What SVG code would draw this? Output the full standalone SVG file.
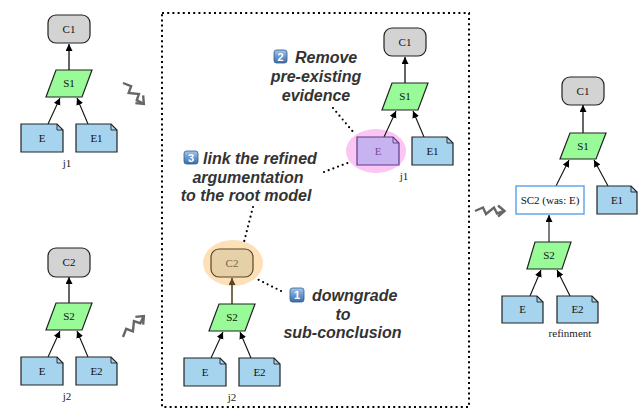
<svg xmlns="http://www.w3.org/2000/svg" width="639" height="409" viewBox="0 0 639 409">
  <defs>
    <marker id="arr" markerUnits="userSpaceOnUse" markerWidth="8" markerHeight="8" refX="7" refY="3.5" orient="auto">
      <path d="M0,0 L7,3.5 L0,7 z" fill="#000"/>
    </marker>
    <marker id="arrBrown" markerUnits="userSpaceOnUse" markerWidth="8" markerHeight="8" refX="7" refY="3.5" orient="auto">
      <path d="M0,0 L7,3.5 L0,7 z" fill="#5a4526"/>
    </marker>
    <linearGradient id="badgeFill" x1="0" y1="0" x2="0" y2="1">
      <stop offset="0" stop-color="#a6c6e8"/>
      <stop offset="0.5" stop-color="#6b98cc"/>
      <stop offset="1" stop-color="#3d6ca5"/>
    </linearGradient>
    <!-- squiggly "becomes" arrow, drawn along +x, length 30 -->
    <g id="squiggle">
      <path d="M0,0 L8,-3.5 L11,3 L19,-3.5 L22,2.5 L29,0" fill="none" stroke="#666" stroke-width="2.4" stroke-linejoin="miter"/>
      <path d="M23,-5.5 L29.5,0 L23,5.5" fill="none" stroke="#666" stroke-width="2.4" stroke-linejoin="miter"/>
    </g>
  </defs>
  <style>
    .claim { fill: #d3d3d3; stroke: #222; stroke-width: 1.2; }
    .strat { fill: #98fb98; stroke: #222; stroke-width: 1.2; }
    .evid { fill: #a6d4ee; stroke: #222; stroke-width: 1.2; }
    .fold { fill: none; stroke: #222; stroke-width: 0.9; }
    .lbl { font-family: "Liberation Serif", serif; font-size: 11px; fill: #111; text-anchor: middle; }
    .cap { font-family: "Liberation Serif", serif; font-size: 11px; fill: #222; text-anchor: middle; }
    .edge { fill: none; stroke: #111; stroke-width: 1.1; marker-end: url(#arr); }
    .edgeUp { fill: none; stroke: #666; stroke-width: 2; marker-end: url(#arr); }
    .note { font-family: "Liberation Sans", Arial, sans-serif; font-size: 16px; font-weight: bold; font-style: italic; fill: #333; }
    .badge { fill: url(#badgeFill); stroke: #2f5a8c; stroke-width: 0.8; }
    .badgeNum { font-family: "Liberation Sans", Arial, sans-serif; font-size: 11px; font-weight: bold; fill: #fff; text-anchor: middle; }
    .leader { fill: none; stroke: #000; stroke-width: 2.2; stroke-linecap: round; stroke-dasharray: 0 5; }
    .frame { fill: none; stroke: #000; stroke-width: 2; stroke-dasharray: 2 3.2; }
  </style>

  <!-- refactoring frame -->
  <rect class="frame" x="162" y="13" width="307" height="394"/>

  <!-- highlight halos -->
  <ellipse cx="376" cy="151" rx="30" ry="22" fill="#fbc6f3"/>
  <ellipse cx="233" cy="263" rx="30" ry="23" fill="#fde0b8"/>

  <!-- connectors -->
  <g id="connectors">
    <!-- j1 -->
    <line class="edgeUp" x1="69" y1="70" x2="69" y2="44"/>
    <line class="edge" x1="48" y1="124" x2="60" y2="98"/>
    <line class="edge" x1="88" y1="124" x2="77" y2="98"/>
    <!-- j2 -->
    <line class="edgeUp" x1="69" y1="303" x2="69" y2="277"/>
    <line class="edge" x1="48" y1="357" x2="60" y2="331"/>
    <line class="edge" x1="88" y1="357" x2="77" y2="331"/>
    <!-- j1 in frame -->
    <line class="edgeUp" x1="405" y1="83" x2="405" y2="57"/>
    <line class="edge" x1="384" y1="137" x2="396" y2="111"/>
    <line class="edge" x1="424" y1="137" x2="413" y2="111"/>
    <!-- j2 in frame -->
    <line x1="232" y1="304" x2="232" y2="278" fill="none" stroke="#5a4526" stroke-width="1.6" marker-end="url(#arrBrown)"/>
    <line class="edge" x1="211" y1="358" x2="223" y2="332"/>
    <line class="edge" x1="251" y1="358" x2="240" y2="332"/>
    <!-- refinement -->
    <line class="edgeUp" x1="583" y1="133" x2="583" y2="105"/>
    <line class="edge" x1="556" y1="186" x2="569" y2="160"/>
    <line class="edge" x1="608" y1="186" x2="594" y2="160"/>
    <line class="edge" x1="549" y1="242" x2="549" y2="215"/>
    <line class="edge" x1="530" y1="296" x2="541" y2="270"/>
    <line class="edge" x1="570" y1="296" x2="557" y2="270"/>
    <!-- transformation arrows -->
    <use href="#squiggle" transform="translate(123,83) rotate(45)"/>
    <use href="#squiggle" transform="translate(123,337) rotate(-45)"/>
    <use href="#squiggle" transform="translate(475,211)"/>
    <!-- annotation leaders -->
    <line class="leader" x1="333" y1="108" x2="354" y2="133"/>
    <line class="leader" x1="324" y1="172" x2="350" y2="162"/>
    <line class="leader" x1="253" y1="207" x2="244" y2="242"/>
    <line class="leader" x1="281" y1="291" x2="257" y2="279"/>
  </g>

  <!-- ===== j1 ===== -->
  <g id="j1-C1">
    <rect class="claim" x="48" y="15" width="42" height="28" rx="8"/>
    <text class="lbl" x="69" y="33">C1</text>
  </g>
  <g id="j1-S1">
    <polygon class="strat" points="56,70 92,70 82,97 46,97"/>
    <text class="lbl" x="69" y="87">S1</text>
  </g>
  <g id="j1-E">
    <path class="evid" d="M21,124 H57 L63,130 V152 H21 Z"/>
    <path class="fold" d="M57,124 V130 H63"/>
    <text class="lbl" x="42" y="142">E</text>
  </g>
  <g id="j1-E1">
    <path class="evid" d="M76,124 H111 L117,130 V152 H76 Z"/>
    <path class="fold" d="M111,124 V130 H117"/>
    <text class="lbl" x="96.5" y="142">E1</text>
  </g>
  <text class="cap" x="67" y="167">j1</text>

  <!-- ===== j2 ===== -->
  <g id="j2-C2">
    <rect class="claim" x="48" y="248" width="42" height="29" rx="8"/>
    <text class="lbl" x="69" y="266">C2</text>
  </g>
  <g id="j2-S2">
    <polygon class="strat" points="56,303 92,303 82,330 46,330"/>
    <text class="lbl" x="69" y="320">S2</text>
  </g>
  <g id="j2-E">
    <path class="evid" d="M21,357 H57 L63,363 V385 H21 Z"/>
    <path class="fold" d="M57,357 V363 H63"/>
    <text class="lbl" x="42" y="375">E</text>
  </g>
  <g id="j2-E2">
    <path class="evid" d="M76,357 H111 L117,363 V385 H76 Z"/>
    <path class="fold" d="M111,357 V363 H117"/>
    <text class="lbl" x="96.5" y="375">E2</text>
  </g>
  <text class="cap" x="67" y="400">j2</text>

  <!-- ===== j1 inside the frame ===== -->
  <g id="f1-C1">
    <rect class="claim" x="384" y="28" width="42" height="28" rx="8"/>
    <text class="lbl" x="405" y="46">C1</text>
  </g>
  <g id="f1-S1">
    <polygon class="strat" points="392,83 428,83 418,110 382,110"/>
    <text class="lbl" x="405" y="100">S1</text>
  </g>
  <g id="f1-E">
    <path d="M357,137 H393 L399,143 V165 H357 Z" fill="#c8b3f1" stroke="#5d3a86" stroke-width="1.2"/>
    <path d="M393,137 V143 H399" fill="none" stroke="#5d3a86" stroke-width="0.9"/>
    <text class="lbl" x="378" y="155" style="fill:#7b4a9e">E</text>
  </g>
  <g id="f1-E1">
    <path class="evid" d="M412,137 H447 L453,143 V165 H412 Z"/>
    <path class="fold" d="M447,137 V143 H453"/>
    <text class="lbl" x="432.5" y="155">E1</text>
  </g>
  <text class="cap" x="404" y="180">j1</text>

  <!-- ===== j2 inside the frame ===== -->
  <g id="f2-C2">
    <rect x="211" y="249" width="42" height="28" rx="8" fill="#e6d0a8" stroke="#5a4526" stroke-width="1.2"/>
    <text class="lbl" x="232" y="267" style="fill:#7a6440">C2</text>
  </g>
  <g id="f2-S2">
    <polygon class="strat" points="219,304 255,304 245,331 209,331"/>
    <text class="lbl" x="232" y="321">S2</text>
  </g>
  <g id="f2-E">
    <path class="evid" d="M184,358 H220 L226,364 V386 H184 Z"/>
    <path class="fold" d="M220,358 V364 H226"/>
    <text class="lbl" x="205" y="376">E</text>
  </g>
  <g id="f2-E2">
    <path class="evid" d="M239,358 H274 L280,364 V386 H239 Z"/>
    <path class="fold" d="M274,358 V364 H280"/>
    <text class="lbl" x="259.5" y="376">E2</text>
  </g>
  <text class="cap" x="232" y="401">j2</text>

  <!-- ===== refinement ===== -->
  <g id="r-C1">
    <rect class="claim" x="562" y="77" width="42" height="28" rx="8"/>
    <text class="lbl" x="583" y="95">C1</text>
  </g>
  <g id="r-S1">
    <polygon class="strat" points="570,133 606,133 596,159 560,159"/>
    <text class="lbl" x="583" y="150">S1</text>
  </g>
  <g id="r-SC2">
    <rect x="516" y="186" width="68" height="28" fill="#fff" stroke="#4a9ae6" stroke-width="1.3"/>
    <text class="lbl" x="550" y="204">SC2 (was: E)</text>
  </g>
  <g id="r-E1">
    <path class="evid" d="M597,186 H631 L637,192 V214 H597 Z"/>
    <path class="fold" d="M631,186 V192 H637"/>
    <text class="lbl" x="617" y="204">E1</text>
  </g>
  <g id="r-S2">
    <polygon class="strat" points="535,242 571,242 562,269 527,269"/>
    <text class="lbl" x="549" y="259">S2</text>
  </g>
  <g id="r-E">
    <path class="evid" d="M502,296 H537 L543,302 V323 H502 Z"/>
    <path class="fold" d="M537,296 V302 H543"/>
    <text class="lbl" x="522.5" y="313">E</text>
  </g>
  <g id="r-E2">
    <path class="evid" d="M557,296 H592 L598,302 V323 H557 Z"/>
    <path class="fold" d="M592,296 V302 H598"/>
    <text class="lbl" x="577.5" y="313">E2</text>
  </g>
  <text class="cap" x="570" y="337">refinment</text>

  <!-- ===== annotations ===== -->
  <g id="note-2">
    <rect class="badge" x="274" y="50" width="13" height="13" rx="2.5"/>
    <text class="badgeNum" x="280.5" y="60.5">2</text>
    <text class="note" x="295" y="63">Remove</text>
    <text class="note" x="316" y="82" text-anchor="middle">pre-existing</text>
    <text class="note" x="316" y="101" text-anchor="middle">evidence</text>
  </g>
  <g id="note-3">
    <rect class="badge" x="184" y="151" width="14" height="13" rx="2.5"/>
    <text class="badgeNum" x="191" y="161.5">3</text>
    <text class="note" x="203" y="164">link the refined</text>
    <text class="note" x="248" y="183" text-anchor="middle">argumentation</text>
    <text class="note" x="246" y="201" text-anchor="middle">to the root model</text>
  </g>
  <g id="note-1">
    <rect class="badge" x="290" y="288" width="14" height="14" rx="2.5"/>
    <text class="badgeNum" x="297" y="299">1</text>
    <text class="note" x="312" y="300.5">downgrade</text>
    <text class="note" x="343" y="319.5" text-anchor="middle">to</text>
    <text class="note" x="342.5" y="338" text-anchor="middle">sub-conclusion</text>
  </g>
</svg>
